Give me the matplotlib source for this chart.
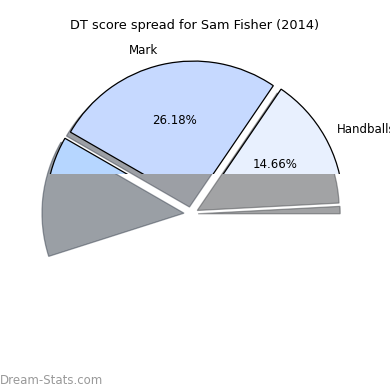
import matplotlib
matplotlib.use("Agg")
import matplotlib.pyplot as plt
from matplotlib.patches import Rectangle

# share of DT score (fractions, not normalised, like the original)
categories = ["Free For", "Handballs", "Mark", "Tackle"]
shares = [0.0083, 0.1466, 0.2618, 0.1325]
colors = ["#e4ecfb", "#e8f0fe", "#c6d9ff", "#b6d6ff"]

fig = plt.figure(figsize=(3.9, 3.9), dpi=100)
ax = fig.add_axes([0, 0, 1, 1])

wedges, texts, autotexts = ax.pie(
    shares,
    labels=categories,
    colors=colors,
    explode=[0.05] * len(shares),
    autopct="%1.2f%%",
    shadow=True,
    startangle=0,
    normalize=False,
    wedgeprops={"edgecolor": "black", "linewidth": 0.9},
    textprops={"fontsize": 8.5},
)

# pie centre sits at (195, 210) px, radius ~142 px
scale = 142.0
ax.set_xlim(-195 / scale, 195 / scale)
ax.set_ylim(-180 / scale, 210 / scale)

# only the upper part of the pie is drawn in colour, the rest shows the shadow
cut_y = (210 - 173.5) / scale
clip = Rectangle((-3, cut_y), 6, 6, transform=ax.transData)
for art in list(wedges) + list(texts) + list(autotexts):
    art.set_clip_on(True)
    art.set_clip_path(clip)

fig.text(0.5, 1 - 25 / 390, "DT score spread for Sam Fisher (2014)",
         ha="center", va="center", fontsize=9.3)
fig.text(0.0, 1 - 380 / 390, "Dream-Stats.com", ha="left", va="center",
         fontsize=8.5, color="#999999")

fig.savefig("out.png", dpi=100)
